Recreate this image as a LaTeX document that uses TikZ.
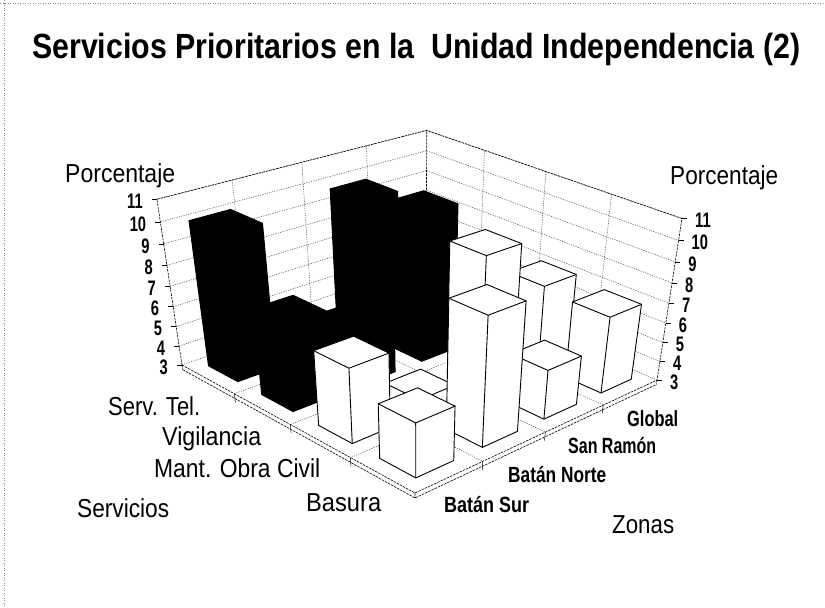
\documentclass[tikz,border=0pt]{standalone}
\usepackage{fontspec}
\setmainfont{Liberation Sans}
\usepackage{graphicx}

\newcommand{\barhw}{0.07}
\newcommand{\sqz}[2]{\resizebox{#1pt}{\height}{#2}}
\newcommand{\chartpt}[4]{%
  \pgfmathsetmacro\chh{((#4)-3)/8}%
  \pgfmathsetmacro\chd{1-0.12986*(#2)+0.14471*(#3)-0.096*\chh}%
  \pgfmathsetmacro\chx{(179.11*(#2)+305.65*(#3)+182-40.13*\chh)/\chd}%
  \pgfmathsetmacro\chy{(63.98*(#2)-43.34*(#3)+365-184.9*\chh)/\chd}%
  \coordinate (#1) at (\chx,\chy);}
\newcommand{\chartbar}[4]{%
  \chartpt{q1}{#1-\barhw}{#2-\barhw}{3}%
  \chartpt{q2}{#1+\barhw}{#2-\barhw}{3}%
  \chartpt{q3}{#1+\barhw}{#2+\barhw}{3}%
  \chartpt{t1}{#1-\barhw}{#2-\barhw}{#3}%
  \chartpt{t2}{#1+\barhw}{#2-\barhw}{#3}%
  \chartpt{t3}{#1+\barhw}{#2+\barhw}{#3}%
  \chartpt{t4}{#1-\barhw}{#2+\barhw}{#3}%
  \filldraw[barline, fill=#4](q1)--(q2)--(q3)--(t3)--(t4)--(t1)--cycle;
  \draw[barline](q2)--(t2)(t1)--(t2)--(t3);}

\tikzset{
  gridline/.style={black!75, line width=0.45pt, dash pattern=on 1.2pt off 1.2pt},
  edgeline/.style={black, line width=0.6pt, dash pattern=on 2.5pt off 1pt},
  barline/.style={black, line width=0.9pt, line join=round},
  tickmark/.style={black, line width=0.5pt},
  border/.style={black!45, line width=0.5pt, dotted},
  ticklab/.style={inner sep=0pt, font=\fontsize{21}{21}\selectfont\bfseries},
  axislab/.style={inner sep=0pt, anchor=base west, font=\fontsize{26}{26}\selectfont},
  zonelab/.style={inner sep=0pt, anchor=base west, font=\fontsize{22}{22}\selectfont\bfseries},
  titlelab/.style={inner sep=0pt, anchor=base west, font=\fontsize{35}{35}\selectfont\bfseries}
}

\begin{document}
\begin{tikzpicture}[x=1pt, y=-1pt, >=stealth]
\useasboundingbox (0,0) rectangle (825,608);
\fill[white] (0,0) rectangle (825,608);
\draw[border](0,3)--(825,3);
\draw[border](4,0)--(4,608);

\foreach \k in {3,...,11}
{
    \chartpt{a}{0}{0}{\k}\chartpt{b}{0}{1}{\k}\chartpt{c}{1}{1}{\k}
    \draw[gridline](a)--(b)--(c);
    \draw[tickmark](a)--++(-5,0);
    \draw[tickmark](c)--++(5,0);
    \node[ticklab, anchor=east](lt\k) at ([xshift=-14pt, yshift=-2pt]a){\scalebox{0.7}[1]{\k}};
    \node[ticklab, anchor=west](rt\k) at ([xshift=13pt, yshift=-2pt]c){\scalebox{0.7}[1]{\k}};
}
\foreach \t in {0.25,0.5,0.75}
{
    \chartpt{a}{0}{\t}{3}\chartpt{b}{0}{\t}{11}\chartpt{c}{1}{\t}{3}
    \draw[gridline](b)--(a)--(c);
    \chartpt{a}{\t}{1}{3}\chartpt{b}{\t}{1}{11}\chartpt{c}{\t}{0}{3}
    \draw[gridline](b)--(a)--(c);
    \chartpt{d}{\t}{0}{2.55}\chartpt{e}{1}{\t}{2.55}
    \draw[tickmark](c)--(d);
    \chartpt{c}{1}{\t}{3}
    \draw[tickmark](c)--(e);
}

\chartpt{L}{0}{0}{3}\chartpt{F}{1}{0}{3}\chartpt{R}{1}{1}{3}\chartpt{B}{0}{1}{3}
\chartpt{Lt}{0}{0}{11}\chartpt{Bt}{0}{1}{11}\chartpt{Rt}{1}{1}{11}
\chartpt{Ls}{0}{0}{2.75}\chartpt{Fs}{1}{0}{2.75}\chartpt{Rs}{1}{1}{2.75}
\draw[edgeline](L)--(Lt)--(Bt)--(Rt)--(R);
\draw[edgeline](B)--(Bt);
\draw[edgeline](L)--(F)--(R)(Ls)--(Fs)--(Rs)(L)--(Ls)(F)--(Fs)(R)--(Rs);

\foreach \sv/\zv/\val/\col in {
    0.125/0.875/6/black, 0.125/0.625/9.8/black, 0.125/0.375/4/black, 0.125/0.125/10.1/black,
    0.375/0.875/5.5/black, 0.375/0.625/10.3/black, 0.375/0.375/6/black, 0.375/0.125/7.3/black,
    0.625/0.875/7.1/white, 0.625/0.625/9.6/white, 0.625/0.375/3.8/white, 0.625/0.125/6.7/white,
    0.875/0.875/6.9/white, 0.875/0.625/5.5/white, 0.875/0.375/9.3/white, 0.875/0.125/5.7/white}
{
    \chartbar{\sv}{\zv}{\val}{\col}
}

\node[titlelab](title) at (32,58){\sqz{768}{Servicios Prioritarios en la \ Unidad Independencia (2)}};
\node[axislab](porcL) at (65,182){\sqz{110}{Porcentaje}};
\node[axislab](porcR) at (670,184){\sqz{108}{Porcentaje}};
\node[axislab](servtel) at (108,415){\sqz{92}{Serv. Tel.}};
\node[axislab](vigil) at (162,445){\sqz{99}{Vigilancia}};
\node[axislab](mant) at (154,477){\sqz{166}{Mant. Obra Civil}};
\node[axislab](basura) at (306,511){\sqz{75}{Basura}};
\node[axislab](servicios) at (77,517){\sqz{92}{Servicios}};
\node[axislab](zonas) at (612,533){\sqz{62}{Zonas}};
\node[zonelab](bsur) at (444,512){\sqz{85}{Batán Sur}};
\node[zonelab](bnorte) at (508,482){\sqz{98}{Batán Norte}};
\node[zonelab](sramon) at (568,453){\sqz{88}{San Ramón}};
\node[zonelab](global) at (627,426){\sqz{51}{Global}};

\end{tikzpicture}
\end{document}
